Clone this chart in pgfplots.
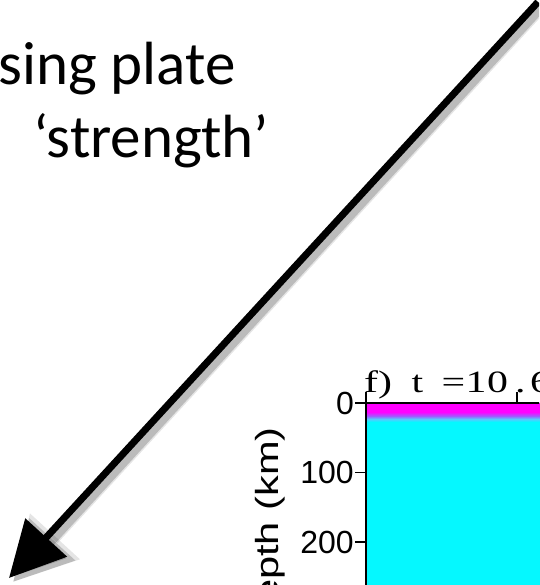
\documentclass[border=0pt]{standalone}
\usepackage{pgfplots}
\pgfplotsset{compat=1.18}
\usepackage{pgfplotstable}
\usepackage{fontspec}
\usepackage{graphicx}
\usetikzlibrary{arrows.meta}
\newfontfamily\helv{Liberation Sans}
\newfontfamily\tnr{Liberation Serif}
\newfontfamily\calib{Carlito}
\pgfplotstableread{
x y c
0 0 0
400 0 0
0 13 0
400 13 0
0 18 1
400 18 1
0 23 2
400 23 2
0 28 3
400 28 3
0 400 3
400 400 3
}\layers
\newcommand{\ttl}[1]{\scalebox{1.35}[1]{\tnr\fontsize{31}{31}\selectfont #1}}
\begin{document}
\begin{tikzpicture}[x=1pt,y=1pt]
\useasboundingbox (0,0) rectangle (539,585);
\clip (0,0) rectangle (539,585);
\fill[white] (0,0) rectangle (539,585);
\begin{axis}[
  at={(366pt,182pt)}, anchor=origin,
  x=0.755pt, y=0.695pt, y dir=reverse,
  xmin=0,xmax=300,ymin=0,ymax=300,
  axis on top,
  axis line style={line width=1.5pt},
  tick style={line width=1.5pt, black},
  major tick length=11pt,
  tick align=outside,
  xtick={0,200}, xticklabels={},
  ytick={0,100,200},
  yticklabel style={font=\helv\fontsize{32}{32}\selectfont, inner sep=1pt},
  /pgf/number format/assume math mode=true,
  colormap={lay}{rgb255=(255,0,255) rgb255=(160,90,255) rgb255=(90,200,255) rgb255=(5,248,255)},
  point meta min=0, point meta max=3,
]
\addplot[surf, shader=interp, mesh/cols=2, point meta=explicit] table[x=x,y=y,meta=c]{\layers};
\end{axis}
% y-axis label
\node[rotate=90, anchor=base east, inner sep=0] at (278.5,158) {\scalebox{1.3}[1]{\helv\fontsize{32}{32}\selectfont Depth (km)}};
% panel title
\node[anchor=base west, inner sep=0] at (364,192) {\ttl{f)}};
\node[anchor=base west, inner sep=0] at (411.5,192) {\ttl{t}};
\node[anchor=base west, inner sep=0] at (441.5,192) {\ttl{=}};
\node[anchor=base west, inner sep=0] at (465.5,192) {\ttl{1}};
\node[anchor=base west, inner sep=0] at (487,192) {\ttl{0}};
\node[anchor=base west, inner sep=0] at (515,192) {\ttl{.}};
\node[anchor=base west, inner sep=0] at (530,192) {\ttl{6}};
% slide text
\node[anchor=base west, inner sep=0] at (-2,500) {\calib\fontsize{61}{61}\selectfont sing plate};
\node[anchor=base east, inner sep=0] at (269,427) {\calib\fontsize{61}{61}\selectfont ‘strength’};
% arrow with shadow
\draw[line width=13pt, black, opacity=0.10, -{Triangle[length=62pt,width=64pt]}] (542,579) -- (13,3);
\draw[line width=10pt, black, opacity=0.18, -{Triangle[length=58pt,width=60pt]}] (542,579) -- (13,3);
\draw[line width=7pt, black, -{Triangle[length=55pt,width=55pt]}] (538,583) -- (9,7);
\end{tikzpicture}
\end{document}
